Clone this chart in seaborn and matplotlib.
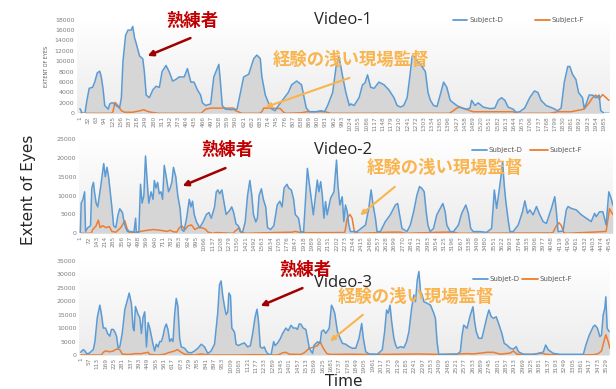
import numpy as np
import matplotlib
matplotlib.use("Agg")
import matplotlib.pyplot as plt
import seaborn as sns
from matplotlib.colors import LinearSegmentedColormap
from matplotlib.lines import Line2D
from matplotlib.patches import FancyArrowPatch

# ---- Video-1 ----
v1_t = [1, 10, 20, 26, 36, 49, 57, 67, 76, 82, 89, 95, 108, 114, 120, 126, 139, 151, 158, 164,
        174, 183, 195, 201, 208, 214, 227, 239, 245, 252, 264, 277, 289, 302, 312, 327, 339, 352,
        364, 377, 396, 408, 421, 433, 446, 458, 465, 477, 496, 508, 527, 533, 540, 552, 577, 596,
        609, 621, 640, 659, 671, 684, 690, 703, 715, 728, 740, 753, 772, 790, 803, 822, 840, 858,
        870, 895, 914, 927, 939, 958, 971, 981, 989, 996, 1008, 1021, 1027, 1039, 1058, 1071, 1080,
        1090, 1102, 1115, 1133, 1152, 1171, 1190, 1202, 1215, 1227, 1240, 1250, 1259, 1268, 1278,
        1290, 1309, 1319, 1328, 1340, 1353, 1365, 1378, 1390, 1403, 1415, 1428, 1447, 1466, 1478,
        1484, 1497, 1509, 1528, 1553, 1572, 1585, 1597, 1610, 1622, 1641, 1653, 1666, 1685, 1704,
        1722, 1735, 1747, 1766, 1791, 1810, 1823, 1835, 1848, 1856, 1866, 1879, 1889, 1904, 1910,
        1919, 1929, 1942, 1954, 1967, 1973, 1986, 2004]
v1_d = [900, 0, 0, 2000, 4800, 5000, 6000, 7800, 8100, 7000, 4500, 1500, 800, 1800, 2000, 2000,
        1500, 1000, 3000, 10000, 15000, 16000, 16000, 16700, 14500, 13500, 11000, 10500, 8000, 3500,
        3000, 4500, 5200, 5000, 8000, 9200, 8000, 6200, 6500, 7000, 7000, 8600, 6000, 6000, 4500,
        3500, 2000, 1500, 1800, 7000, 9400, 6000, 1500, 800, 700, 800, 4000, 7000, 7500, 10500,
        11200, 10500, 7000, 3500, 2000, 800, 500, 1500, 2800, 4000, 5500, 6200, 5500, 1000,
        300, 300, 500, 300, 1500, 4000, 9000, 10900, 9000, 7000, 4000, 1500, 1800, 1500, 3000, 5500,
        5800, 7400, 5000, 4800, 6000, 5500, 4500, 3000, 1500, 1200, 1500, 3000, 7000, 11000, 10900,
        10000, 9500, 8000, 4000, 2500, 1500, 1300, 3500, 6000, 5000, 2500, 2000, 1500, 1000, 800,
        1000, 2500, 1500, 2000, 1200, 900, 1000, 2500, 3000, 2500, 1200, 800, 200, 300, 1000, 3000,
        4300, 4000, 2500, 1500, 1000, 500, 1000, 6000, 9000, 9000, 7500, 6500, 4000, 3000, 1000,
        2000, 3500, 3500, 3000, 3500, 500, 0, 0]
v1_ft = [1, 120, 126, 134, 145, 158, 170, 200, 230, 242, 255, 270, 300, 460, 477, 496, 540, 583,
         590, 600, 615, 680, 690, 697, 730, 760, 772, 780, 840, 860, 880, 930, 950, 1400, 1415,
         1428, 1440, 1466, 1490, 1640, 1660, 1780, 1810, 1860, 1910, 1929, 1942, 1954, 1967, 1980,
         1993, 2004]
v1_f = [0, 0, 300, 2100, 1500, 500, 200, 200, 500, 700, 400, 200, 0, 0, 800, 1000, 1000, 1000,
        500, 300, 0, 0, 300, 1000, 1000, 900, 200, 0, 100, 300, 300, 300, 0, 0, 500, 1000, 1200,
        700, 300, 300, 0, 0, 300, 300, 800, 2000, 3000, 3500, 2800, 3600, 3000, 2500]
v1_ticks = list(range(1, 1986, 31))

# ---- Video-2 ----
v2_t = [1, 9, 24, 38, 46, 66, 89, 100, 114, 123, 137, 151, 165, 179, 202, 216, 230, 244, 258, 272,
        287, 306, 326, 340, 363, 377, 391, 405, 434, 462, 476, 482, 504, 518, 532, 547, 561, 575,
        589, 609, 626, 637, 651, 665, 679, 694, 708, 722, 739, 759, 773, 787, 801, 821, 838, 858,
        872, 891, 914, 937, 951, 965, 979, 999, 1027, 1055, 1084, 1106, 1126, 1154, 1169, 1183,
        1197, 1217, 1231, 1253, 1282, 1301, 1318, 1338, 1358, 1372, 1395, 1417, 1437, 1457, 1474,
        1488, 1508, 1522, 1536, 1556, 1573, 1593, 1609, 1635, 1663, 1692, 1714, 1734, 1751, 1776,
        1790, 1813, 1833, 1847, 1875, 1894, 1918, 1951, 2002, 2036, 2050, 2065, 2079, 2093, 2107,
        2121, 2150, 2179, 2201, 2213, 2230, 2250, 2264, 2278, 2293, 2307, 2321, 2378, 2450, 2478,
        2498, 2515, 2535, 2549, 2578, 2620, 2663, 2706, 2726, 2743, 2763, 2806, 2835, 2863, 2892,
        2914, 2934, 2954, 2971, 2986, 3005, 3034, 3062, 3091, 3114, 3134, 3148, 3177, 3205, 3248,
        3276, 3311, 3333, 3353, 3376, 3433, 3490, 3533, 3556, 3576, 3596, 3613, 3627, 3641, 3655,
        3675, 3690, 3718, 3761, 3798, 3818, 3841, 3861, 3889, 3918, 3941, 3975, 4003, 4046, 4075,
        4089, 4103, 4146, 4174, 4189, 4217, 4260, 4303, 4346, 4388, 4417, 4431, 4459, 4488, 4516,
        4539, 4559, 4573]
v2_d = [0, 8000, 9000, 11000, 500, 1500, 2000, 12000, 13500, 11000, 8000, 7000, 10000, 13000,
        18500, 15000, 17500, 15000, 11000, 7000, 2000, 1500, 5000, 6500, 5500, 3000, 1500, 500, 500,
        300, 4000, 300, 300, 13000, 8000, 10000, 20500, 14000, 8000, 11000, 9000, 14000, 12000,
        13500, 10500, 11000, 9000, 18000, 15000, 11000, 12000, 13500, 17500, 15000, 10000, 6500,
        1000, 500, 4000, 9000, 7000, 8500, 5000, 3000, 1500, 3000, 5000, 5500, 4000, 7000, 11000,
        11500, 10500, 11500, 9000, 5000, 6000, 7000, 5500, 2500, 2000, 500, 300, 3000, 10000, 14000,
        10000, 5000, 3000, 4000, 10000, 11800, 9000, 7000, 1500, 1000, 2000, 7500, 8500, 7000, 12000,
        13000, 12000, 11500, 9000, 5000, 4000, 450, 300, 17200, 4900, 14100, 11000, 13700, 10150,
        4000, 8400, 4900, 9300, 11000, 19400, 12800, 7500, 9700, 3100, 7500, 5700, 2200, 450, 450,
        2200, 6600, 11500, 7500, 4000, 450, 450, 3100, 4900, 7500, 7900, 4900, 1300, 450, 2200,
        5700, 10200, 12400, 11900, 11000, 5700, 2200, 450, 1300, 4900, 6600, 7900, 5700, 2200, 450,
        450, 2200, 5300, 7500, 5300, 1300, 450, 450, 250, 1300, 11500, 6600, 11000, 15000, 19000,
        12800, 8400, 3500, 450, 450, 2200, 5700, 8600, 5300, 6200, 4900, 7100, 5300, 3100, 2600,
        6600, 9700, 5700, 450, 600, 6200, 7100, 6600, 6200, 4900, 4000, 3100, 5300, 4400, 5700,
        5700, 2200, 11000, 9300, 7500]
v2_ft = [1, 94, 108, 137, 156, 171, 193, 222, 250, 272, 306, 349, 383, 400, 419, 462, 518, 575,
         631, 688, 745, 773, 801, 829, 852, 872, 900, 928, 956, 985, 1013, 1041, 1070, 1098, 1140,
         1169, 1310, 1347, 1367, 1381, 1423, 1536, 1819, 1847, 1875, 1950, 2264, 2273, 2293, 2316,
         2335, 2355, 2400, 2663, 2749, 2800, 3120, 3205, 3250, 4040, 4060, 4089, 4112, 4132, 4152,
         4174, 4402, 4516, 4545, 4573]
v2_f = [0, 0, 1000, 2000, 3500, 1500, 2000, 1500, 1800, 500, 300, 1500, 3300, 1500, 300, 200, 500,
        800, 1000, 800, 500, 800, 400, 300, 1500, 2000, 1000, 2000, 2200, 1000, 1500, 1500, 1200,
        300, 0, 200, 0, 1000, 1500, 200, 0, 100, 300, 500, 300, 150, 200, 300, 4000, 5000, 4000,
        300, 0, 300, 300, 0, 300, 300, 0, 100, 200, 2000, 2800, 2000, 200, 0, 300, 500, 6500, 5000]
v2_ticks = list(range(1, 4546, 71))

# ---- Video-3 ----
v3_t = [1, 19, 30, 41, 57, 75, 86, 97, 113, 130, 141, 153, 168, 182, 197, 208, 220, 231, 242, 253,
        264, 280, 298, 313, 327, 342, 353, 360, 369, 387, 398, 409, 420, 431, 443, 454, 465, 476,
        487, 498, 509, 521, 532, 543, 554, 565, 576, 587, 599, 610, 621, 632, 643, 654, 666, 677,
        699, 721, 744, 766, 788, 811, 833, 855, 877, 900, 922, 933, 944, 955, 967, 978, 989, 996,
        1007, 1016, 1034, 1045, 1060, 1078, 1100, 1123, 1141, 1156, 1172, 1185, 1196, 1207, 1223,
        1234, 1245, 1256, 1279, 1297, 1306, 1324, 1341, 1357, 1379, 1395, 1413, 1430, 1446, 1457,
        1468, 1479, 1495, 1513, 1525, 1536, 1558, 1569, 1592, 1609, 1618, 1632, 1647, 1670, 1685,
        1696, 1707, 1725, 1743, 1759, 1781, 1803, 1826, 1848, 1870, 1888, 1899, 1915, 1937, 1993,
        2026, 2042, 2055, 2066, 2078, 2089, 2104, 2116, 2127, 2149, 2171, 2189, 2205, 2223, 2238,
        2249, 2261, 2272, 2283, 2294, 2305, 2327, 2350, 2372, 2383, 2394, 2405, 2461, 2528, 2550,
        2562, 2573, 2595, 2617, 2635, 2646, 2657, 2673, 2695, 2713, 2729, 2742, 2758, 2773, 2791,
        2807, 2829, 2845, 2863, 2885, 2907, 2925, 2941, 2974, 3041, 3086, 3108, 3123, 3141, 3175,
        3219, 3376, 3393, 3416, 3442, 3454, 3471, 3487, 3498, 3509, 3520, 3527, 3536, 3549]
v3_d = [1000, 2000, 1500, 500, 600, 1500, 2000, 5000, 14000, 18500, 15000, 10000, 10000, 8000,
        7000, 9500, 9500, 8500, 7000, 2500, 3000, 8000, 17000, 20000, 23000, 19000, 10000, 9000,
        18000, 15000, 14000, 8000, 14000, 16000, 3000, 12000, 10000, 7000, 4000, 1500, 4000, 3000,
        5000, 5000, 7000, 10000, 11500, 9500, 5000, 6000, 5000, 15000, 21000, 18000, 6000, 3000,
        2500, 1000, 800, 1500, 2500, 4000, 3000, 500, 1500, 4000, 16000, 26000, 27500, 22000, 18000,
        15000, 16000, 23000, 22000, 10000, 8500, 4000, 3500, 4000, 4500, 3000, 3500, 8000, 14000,
        17000, 12000, 3000, 2500, 3000, 1500, 500, 0, 5000, 3500, 4500, 6000, 8000, 10000, 9000,
        11000, 10000, 10000, 9500, 11500, 11500, 10000, 9500, 6000, 2500, 600, 3700, 4900, 4300,
        8700, 9300, 8000, 9900, 18500, 17300, 15500, 8700, 6200, 4300, 4000, 3100, 2500, 2500, 6200,
        11700, 6200, 1200, 400, 250, 1900, 8700, 16700, 15500, 18500, 12400, 6200, 3700, 2500, 3100,
        2700, 4900, 8700, 17300, 22300, 19800, 27800, 31000, 23500, 22300, 19800, 19200, 18500,
        15500, 13600, 4900, 250, 250, 250, 1200, 7400, 11100, 9900, 14800, 17900, 12400, 8700, 6200,
        6200, 10500, 14200, 16700, 14200, 13600, 14200, 11700, 8000, 4300, 3700, 2500, 2200, 3100,
        1200, 250, 250, 600, 1200, 3700, 1900, 600, 250, 250, 3700, 7400, 10500, 11100, 9900, 6800,
        7400, 14800, 17300, 21600, 9900, 8700]
v3_ft = [1, 141, 153, 168, 197, 220, 242, 264, 280, 327, 369, 409, 454, 465, 521, 565, 587, 632,
         650, 677, 699, 766, 811, 855, 1034, 1170, 1324, 1357, 1379, 1401, 1479, 1502, 1536, 1569,
         1592, 1609, 1625, 1636, 1654, 1681, 1815, 1926, 2149, 2261, 2417, 2595, 2640, 2729, 2773,
         2818, 2885, 2907, 2930, 3041, 3086, 3130, 3264, 3442, 3476, 3498, 3514, 3527, 3543, 3554]
v3_f = [0, 0, 1000, 1500, 1200, 1500, 2200, 2000, 300, 200, 500, 500, 1000, 200, 0, 300, 800,
        1500, 2000, 1000, 300, 0, 400, 0, 0, 100, 0, 800, 1000, 300, 200, 800, 2500, 3000, 3500,
        5000, 3000, 2000, 500, 200, 300, 200, 300, 400, 200, 500, 400, 1000, 1000, 300, 700, 1500,
        300, 200, 800, 200, 0, 100, 500, 1500, 5000, 7500, 5000, 2500]
v3_ticks = list(range(1, 3530, 56))

BLUE = "#5b9bd5"
ORANGE = "#ed7d31"
FILL = "#d6d6d6"
TICKC = "#7f7f7f"
W, H = 616, 389

sns.set_style("white")
plt.rcParams["font.family"] = ["DejaVu Sans", "Noto Sans CJK JP"]

fig = plt.figure(figsize=(W / 100, H / 100), dpi=100)
bg = LinearSegmentedColormap.from_list("bg", ["#ececec", "#ffffff"])
grad = np.linspace(0, 1, 256).reshape(-1, 1)


def P(x, y):
    return (x / W, 1 - y / H)


def panel(rect, t, d, ft, f, ticks, xmax, ymax, ystep):
    l, tp, r, b = rect
    ax = fig.add_axes([l / W, 1 - b / H, (r - l) / W, (b - tp) / H])
    ax.imshow(grad, extent=[0, 1, 0, 1], transform=ax.transAxes, aspect="auto",
              cmap=bg, origin="lower", zorder=0)
    ax.fill_between(t, d, color=FILL, lw=0, zorder=1)
    sns.lineplot(x=ft, y=f, ax=ax, color=ORANGE, lw=1.1, zorder=2)
    sns.lineplot(x=t, y=d, ax=ax, color=BLUE, lw=1.1, zorder=3)
    ax.set_xlim(-10, xmax)
    ax.set_ylim(0, ymax)
    ax.set_yticks(np.arange(0, ymax + 1, ystep))
    ax.set_yticklabels([str(v) for v in np.arange(0, ymax + 1, ystep)], fontsize=4.5, color=TICKC)
    ax.set_xticks(ticks)
    ax.set_xticklabels([str(v) for v in ticks], rotation=90, fontsize=4.2, color=TICKC)
    ax.tick_params(length=0, pad=2)
    for s in ax.spines.values():
        s.set_visible(False)
    ax.set_xlabel("")
    ax.set_ylabel("")
    return ax


ax1 = panel((77, 19.7, 610, 113.3), v1_t, v1_d, v1_ft, v1_f, v1_ticks, 2008, 18000, 2000)
ax2 = panel((79, 139, 613, 233.3), v2_t, v2_d, v2_ft, v2_f, v2_ticks, 4575, 25000, 5000)
ax3 = panel((79, 260.7, 610, 355), v3_t, v3_d, v3_ft, v3_f, v3_ticks, 3555, 35000, 5000)

# titles
for y, s in [(20, "Video-1"), (150, "Video-2"), (283, "Video-3")]:
    fig.text(*P(343, y), s, fontsize=12, ha="center", va="center", family="Open Sans")

# legends
for y, (xa, xb, ta, la), (xc, xd, tb, lb) in [
        (20, (453, 467, 469, "Subject-D"), (535, 550, 552, "Subject-F")),
        (150, (472, 487, 489, "Subject-D"), (530, 548, 550, "Subject-F")),
        (279, (473, 488, 490, "Subjet-D"), (522, 538, 540, "Subject-F"))]:
    fig.add_artist(Line2D([xa / W, xb / W], [1 - y / H] * 2, color=BLUE, lw=1.3))
    fig.text(*P(ta, y), la, fontsize=5, color="#595959", va="center")
    fig.add_artist(Line2D([xc / W, xd / W], [1 - y / H] * 2, color=ORANGE, lw=1.3))
    fig.text(*P(tb, y), lb, fontsize=5, color="#595959", va="center")

# axis labels
fig.text(*P(29, 190), "Extent of Eyes", rotation=90, fontsize=11, ha="center", va="center")
fig.text(*P(344, 382), "Time", fontsize=11, ha="center", va="center")
fig.text(*P(46, 66), "EXTENT OF EYES", rotation=90, fontsize=3.5, color="#595959",
         ha="center", va="center")

# annotations
RED = "#c00000"
AMBER = "#f9b44e"
jp = ["Noto Sans CJK JP"]
for (tx, ty), (a0, a1) in [((192, 21), ((193, 37), (145, 57))),
                           ((227, 150), ((228, 167), (180, 187))),
                           ((305, 270), ((305, 287), (258, 307)))]:
    fig.text(*P(tx, ty), "熟練者", fontsize=12.5, color=RED, weight="bold", family=jp,
             ha="center", va="center")
    fig.add_artist(FancyArrowPatch(P(*a0), P(*a1), transform=fig.transFigure,
                                   arrowstyle="-|>", mutation_scale=8, lw=1.8, color="#a00000"))
for (tx, ty), (a0, a1) in [((351, 60), ((352, 77), (263, 108))),
                           ((445, 168), ((397, 185), (358, 217))),
                           ((416, 297), ((365, 313), (328, 343)))]:
    fig.text(*P(tx, ty), "経験の浅い現場監督", fontsize=12.5, color=AMBER, weight="bold",
             family=jp, ha="center", va="center")
    fig.add_artist(FancyArrowPatch(P(*a0), P(*a1), transform=fig.transFigure,
                                   arrowstyle="-|>", mutation_scale=7, lw=1.5, color=AMBER))

fig.savefig("out.png", dpi=100)
